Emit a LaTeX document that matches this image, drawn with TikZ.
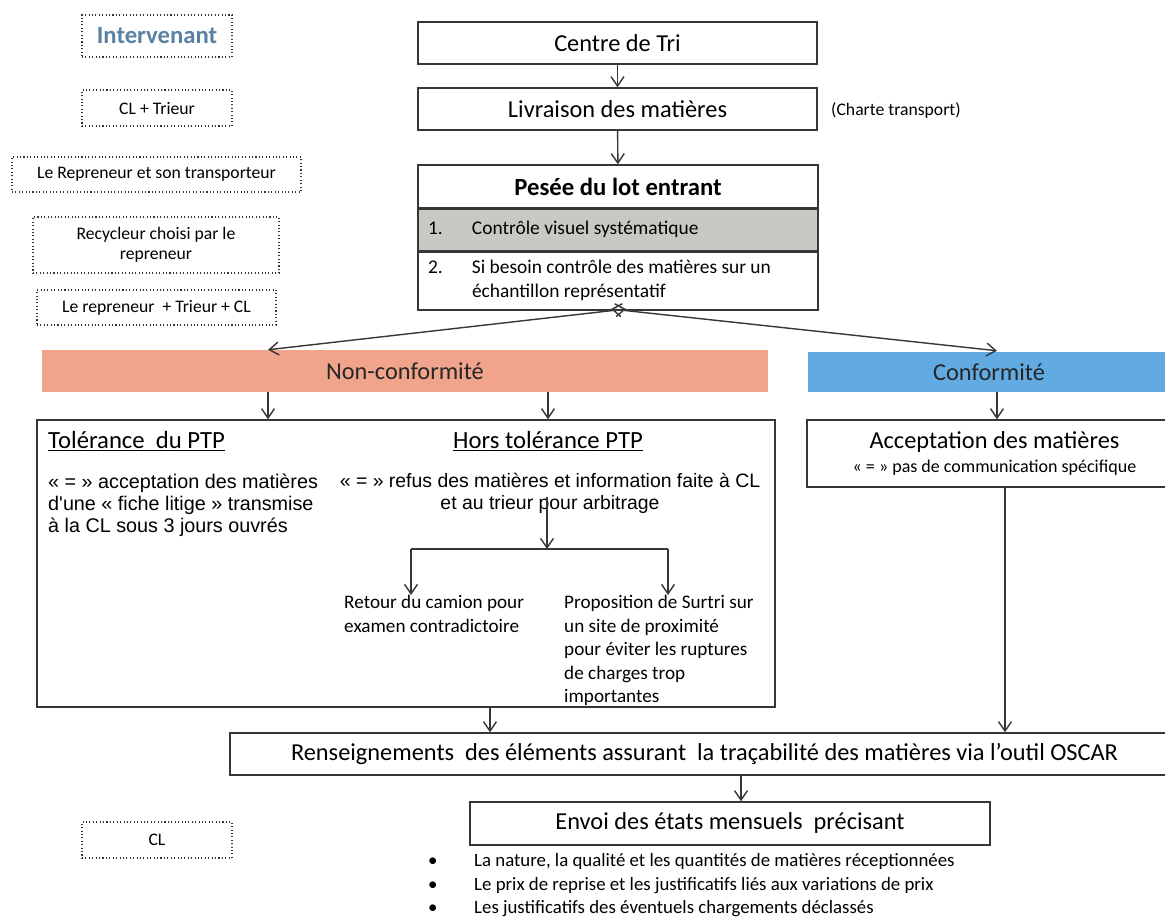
\documentclass[tikz,border=0pt]{standalone}
\usepackage{fontspec}
\setmainfont{Carlito}
\newfontfamily\arialfont{Liberation Sans}
\usetikzlibrary{arrows.meta,positioning}

\newlength\pxu
\setlength\pxu{0.85pt}

\definecolor{salmon}{RGB}{240,164,140}
\definecolor{skyband}{RGB}{98,171,226}
\definecolor{greyrow}{RGB}{201,201,195}
\definecolor{titleblue}{RGB}{88,130,165}
\definecolor{linegrey}{RGB}{55,55,55}

\tikzset{
  flowbox/.style={draw=linegrey, line width=1.2pt, minimum height=42\pxu, inner sep=0pt,
    align=center, font=\fontsize{20.7}{24}\selectfont},
  whobox/.style={draw=black!80, dotted, line width=0.9pt, inner sep=0pt, align=center,
    font=\fontsize{15}{17}\selectfont},
  band/.style={inner sep=0pt, minimum height=42\pxu, text=black!85, font=\fontsize{20.7}{24}\selectfont},
  arr/.style={draw=linegrey, line width=1.2pt, -{Straight Barb[length=8pt,width=11pt]}},
  dblarr/.style={draw=linegrey, line width=1.2pt, {Straight Barb[length=8pt,width=11pt]}-{Straight Barb[length=8pt,width=11pt]}},
  plain/.style={inner sep=0pt, align=left},
}

\begin{document}
\begin{tikzpicture}[x=0.85pt, y=-0.85pt]
  \useasboundingbox (0,0) rectangle (1165,917);
  \clip (0,0) rectangle (1165,917);

  % Intervenants (left column)
  \node[whobox, minimum width=150\pxu, minimum height=42\pxu, text=titleblue,
        font=\bfseries\fontsize{21}{24}\selectfont] (who) at (157,36) {Intervenant};
  \node[whobox, minimum width=150\pxu, minimum height=36\pxu] (cltrieur) at (157,108) {CL + Trieur};
  \node[whobox, minimum width=289\pxu, minimum height=35\pxu] (reptrans) at (156.5,174.5) {Le Repreneur et son transporteur};
  \node[whobox, minimum width=246\pxu, minimum height=56\pxu] (recycleur) at (156,245) {Recycleur choisi par le\\repreneur};
  \node[whobox, minimum width=239\pxu, minimum height=35\pxu] (reptricl) at (156.5,307.5) {Le repreneur\ \ + Trieur + CL};
  \node[whobox, minimum width=150\pxu, minimum height=36\pxu] (clend) at (157,840) {CL};

  % Main column
  \node[flowbox, minimum width=399\pxu] (centre) at (617.5,43) {Centre de Tri};
  \node[flowbox, minimum width=399\pxu] (livraison) at (617.5,109) {Livraison des matières};
  \node[plain, anchor=west, font=\fontsize{15}{18}\selectfont] (charte) at (831,110) {(Charte transport)};

  \node[flowbox, minimum width=400\pxu, minimum height=43\pxu,
        font=\bfseries\fontsize{21}{24}\selectfont] (pesee) at (618,186.5) {Pesée du lot entrant};
  \node[flowbox, fill=greyrow, minimum width=400\pxu, minimum height=41\pxu, anchor=north,
        font=\fontsize{16.5}{20.4}\selectfont] (ctrl1) at (pesee.south)
        {\begin{tabular}{@{}p{44\pxu}@{}p{336\pxu}@{}}1. & Contrôle visuel systématique\end{tabular}};
  \node[flowbox, minimum width=400\pxu, minimum height=58\pxu, anchor=north,
        font=\fontsize{16.5}{20.4}\selectfont] (ctrl2) at (ctrl1.south)
        {\begin{tabular}{@{}p{44\pxu}@{}p{336\pxu}@{}}2. & Si besoin contrôle des matières sur un\\ & échantillon représentatif\end{tabular}};

  % Bands
  \node[band, fill=salmon, minimum width=726\pxu] (noncon) at (405,371) {Non-conformité};
  \node[band, fill=skyband, minimum width=362\pxu, minimum height=40\pxu] (conf) at (989,372) {Conformité};

  % Non-conformite block
  \node[flowbox, minimum width=738\pxu, minimum height=287\pxu] (ncbox) at (406,563.5) {};
  \node[plain, anchor=west, font=\fontsize{21}{24}\selectfont] (tolhead) at (48,441) {\underline{Tolérance\ \ du PTP}};
  \node[plain, anchor=north west, font=\arialfont\fontsize{16.8}{18.7}\selectfont] (toldesc) at (48,474)
        {« = » acceptation des matières\\d'une « fiche litige » transmise\\à la CL sous 3 jours ouvrés};
  \node[plain, font=\fontsize{21}{24}\selectfont] (horshead) at (548,441) {\underline{Hors tolérance PTP}};
  \node[plain, align=center, font=\arialfont\fontsize{16.5}{18.7}\selectfont] (horsdesc) at (550,493)
        {« = » refus des matières et information faite à CL\\et au trieur pour arbitrage};
  \node[plain, anchor=north west, font=\fontsize{16.3}{20}\selectfont] (retour) at (344,595)
        {Retour du camion pour\\examen contradictoire};
  \node[plain, anchor=north west, font=\fontsize{16.3}{20}\selectfont] (surtri) at (564,595)
        {Proposition de Surtri sur\\un site de proximité\\pour éviter les ruptures\\de charges trop\\importantes};

  % Conformite block
  \node[flowbox, minimum width=375\pxu, minimum height=67\pxu] (accept) at (994.5,453.5)
        {Acceptation des matières\\[-3pt]{\fontsize{15.3}{18}\selectfont « = » pas de communication spécifique}};

  % Bottom
  \node[flowbox, minimum width=949\pxu] (rens) at (704.5,754)
        {Renseignements\ \ des éléments assurant\ \ la traçabilité des matières via l’outil OSCAR};
  \node[flowbox, minimum width=520\pxu, minimum height=43\pxu] (envoi) at (730,823.5) {Envoi des états mensuels\ \ précisant};
  \node[plain, anchor=north west, font=\fontsize{16}{20}\selectfont] (details) at (428,850)
        {\begin{tabular}{@{}p{46\pxu}@{}l@{}}
          \textbullet & La nature, la qualité et les quantités de matières réceptionnées\\
          \textbullet & Le prix de reprise et les justificatifs liés aux variations de prix\\
          \textbullet & Les justificatifs des éventuels chargements déclassés
        \end{tabular}};

  % Connectors
  \coordinate (xa) at (268,0);
  \coordinate (xb) at (548,0);
  \coordinate (xc) at (997,0);
  \coordinate (xd) at (1005,0);
  \coordinate (xe) at (490,0);
  \coordinate (xf) at (741,0);
  \coordinate (tipL) at (626,309);
  \coordinate (tipR) at (611,309);
  \coordinate (splittop) at (547,497);
  \coordinate (split) at (547,549);
  \coordinate (bl) at (411,549);
  \coordinate (br) at (668,549);

  \draw[arr] (centre) -- (livraison);
  \draw[arr] (livraison) -- (pesee);
  \draw[dblarr] (noncon.north -| xa) -- (tipL);
  \draw[dblarr] ([yshift=0.85pt]conf.north -| xc) -- (tipR);
  \draw[arr] (noncon.south -| xa) -- (ncbox.north -| xa);
  \draw[arr] (noncon.south -| xb) -- (ncbox.north -| xb);
  \draw[arr] (conf.south -| xc) -- (accept.north -| xc);
  \draw[arr] (splittop) -- (split);
  \draw[line width=1.2pt, draw=linegrey] (bl) -- (br);
  \draw[arr] (bl) -- (bl |- retour.north);
  \draw[arr] (br) -- (br |- surtri.north);
  \draw[arr] (accept.south -| xd) -- (rens.north -| xd);
  \draw[arr] (ncbox.south -| xe) -- (rens.north -| xe);
  \draw[arr] (rens.south -| xf) -- (envoi.north -| xf);
\end{tikzpicture}
\end{document}
